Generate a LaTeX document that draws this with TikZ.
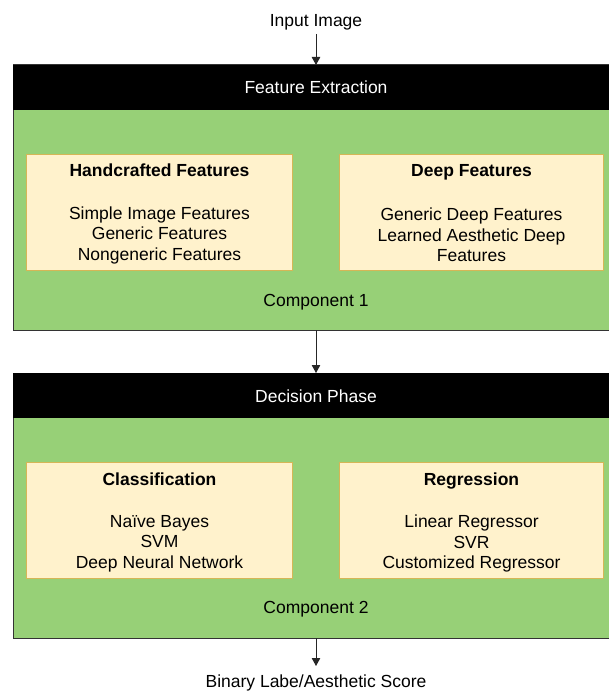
\documentclass[tikz,border=0pt]{standalone}
\usepackage{fontspec}
\setmainfont{Liberation Sans}
\usetikzlibrary{arrows.meta}
\definecolor{gfill}{HTML}{97D077}
\definecolor{cfill}{HTML}{FFF2CC}
\definecolor{cdraw}{HTML}{D6B656}
\begin{document}
\begin{tikzpicture}[x=1pt,y=-1pt,
  font=\fontsize{17.5}{20.5}\selectfont,
  panel/.style={draw=black!80, line width=1pt, fill=gfill, inner sep=0pt, outer sep=0pt,
    minimum width=597pt, minimum height=265pt, anchor=north west},
  bar/.style={fill=black, text=white, inner sep=0pt, outer sep=0pt,
    minimum width=597pt, minimum height=45pt, anchor=north west},
  ibox/.style={draw=cdraw, line width=1pt, fill=cfill, inner sep=0pt,
    minimum width=266pt, minimum height=116pt, anchor=north west},
  txt/.style={align=center, inner sep=1pt},
  lbl/.style={inner sep=1pt, anchor=base},
  arr/.style={-{Triangle[length=8pt,width=8.5pt]}, line width=0.9pt, draw=black!85}]
\useasboundingbox (0,0) rectangle (608,692);

% Input
\node[lbl] (in) at (316,26.5) {Input Image};

% Component 1
\node[panel] (p1) at (13,65) {};
\node[bar] (bar1) at (13,65) {};
\node[lbl, text=white] (t1) at (316,94) {Feature Extraction};
\node[ibox] (hf) at (26,154) {};
\node[ibox, minimum width=264pt] (df) at (339,154) {};
\node[lbl] (hft) at (hf.center |- 0,176.5) {\textbf{Handcrafted Features}};
\node[txt] (hfb) at (hf.center |- 0,235) {Simple Image Features\\Generic Features\\Nongeneric Features};
\node[lbl] (dft) at (df.center |- 0,176.5) {\textbf{Deep Features}};
\node[txt] (dfb) at (df.center |- 0,235) {Generic Deep Features\\Learned Aesthetic Deep\\Features};
\node[lbl] (c1) at (316,306.5) {Component 1};

% Component 2
\node[panel] (p2) at (13,373) {};
\node[bar] (bar2) at (13,373) {};
\node[lbl, text=white] (t2) at (316,402.5) {Decision Phase};
\node[ibox] (cl) at (26,462) {};
\node[ibox, minimum width=264pt] (rg) at (339,462) {};
\node[lbl] (clt) at (cl.center |- 0,485) {\textbf{Classification}};
\node[txt] (clb) at (cl.center |- 0,543.5) {Naïve Bayes\\SVM\\Deep Neural Network};
\node[lbl] (rgt) at (rg.center |- 0,485) {\textbf{Regression}};
\node[txt] (rgb) at (rg.center |- 0,543.5) {Linear Regressor\\SVR\\Customized Regressor};
\node[lbl] (c2) at (316,613.5) {Component 2};

% Output
\node[lbl] (out) at (316,687) {Binary Labe/Aesthetic Score};

% Connectors
\coordinate (a1) at (316,34);
\draw[arr] (a1) -- (a1 |- bar1.north);
\draw[arr] (a1 |- p1.south) -- (a1 |- bar2.north);
\draw[arr] (a1 |- p2.south) -- (316,666);
\end{tikzpicture}
\end{document}
